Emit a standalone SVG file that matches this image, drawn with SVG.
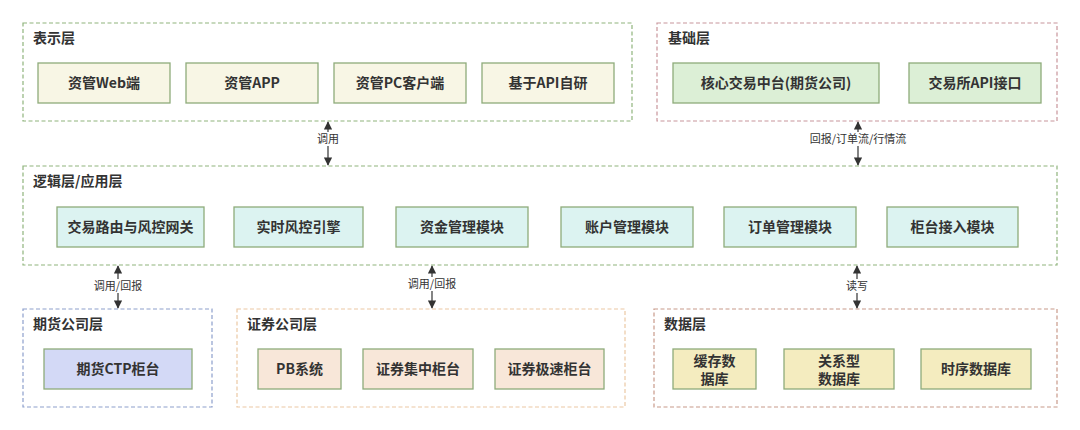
<svg xmlns="http://www.w3.org/2000/svg" width="1080" height="430" viewBox="0 0 1080 430">
<style>
.layer{fill:#ffffff;stroke-width:1.2;stroke-dasharray:4 2.5}
.green{stroke:#8fb47c}
.red{stroke:#c8959b}
.blue{stroke:#8d9fcc}
.orange{stroke:#ecc8a4}
.brown{stroke:#c89a8a}
.node{stroke:#8eab7a;stroke-width:1.3}
.cream{fill:#f8f6e5}
.lgreen{fill:#dcefd6}
.cyan{fill:#dcf3f1}
.lav{fill:#d3d9f6}
.peach{fill:#f8e7d9}
.yellow{fill:#f4ecbf}
.title{font-family:"Noto Sans CJK SC","Liberation Sans",sans-serif;font-size:14px;font-weight:bold;fill:#333333}
.nt{font-family:"Noto Sans CJK SC","Liberation Sans",sans-serif;font-size:14px;font-weight:bold;fill:#333333;text-anchor:middle}
.cl{font-family:"Noto Sans CJK SC","Liberation Sans",sans-serif;font-size:11px;fill:#333333;text-anchor:middle}
.conn{stroke:#333333;stroke-width:1.2;fill:none}
</style>
<defs>
<marker id="ah" viewBox="0 0 10 10" refX="9" refY="5" markerWidth="7" markerHeight="7" orient="auto-start-reverse">
<path d="M0,0 L10,5 L0,10 z" fill="#333333"/>
</marker>
</defs>

<g id="layer-presentation">
<rect class="layer green" x="23" y="23" width="609" height="98"/>
<text class="title" x="33" y="43">表示层</text>
</g>
<g id="node-web"><rect class="node cream" x="38" y="63" width="132" height="40"/><text class="nt" x="104" y="88">资管Web端</text></g>
<g id="node-app"><rect class="node cream" x="186" y="63" width="132" height="40"/><text class="nt" x="252" y="88">资管APP</text></g>
<g id="node-pc"><rect class="node cream" x="334" y="63" width="132" height="40"/><text class="nt" x="400" y="88">资管PC客户端</text></g>
<g id="node-api"><rect class="node cream" x="482" y="63" width="132" height="40"/><text class="nt" x="548" y="88">基于API自研</text></g>

<g id="layer-base">
<rect class="layer red" x="657" y="23" width="400" height="98"/>
<text class="title" x="668" y="43">基础层</text>
</g>
<g id="node-core"><rect class="node lgreen" x="673" y="63" width="206" height="40"/><text class="nt" x="776" y="88">核心交易中台(期货公司)</text></g>
<g id="node-exapi"><rect class="node lgreen" x="909" y="63" width="132" height="40"/><text class="nt" x="975" y="88">交易所API接口</text></g>

<g id="layer-logic">
<rect class="layer green" x="23" y="166" width="1034" height="99"/>
<text class="title" x="33" y="186">逻辑层/应用层</text>
</g>
<g id="node-gw"><rect class="node cyan" x="57" y="207" width="147" height="40"/><text class="nt" x="130.5" y="232">交易路由与风控网关</text></g>
<g id="node-risk"><rect class="node cyan" x="234" y="207" width="129" height="40"/><text class="nt" x="298.5" y="232">实时风控引擎</text></g>
<g id="node-fund"><rect class="node cyan" x="396" y="207" width="132" height="40"/><text class="nt" x="462" y="232">资金管理模块</text></g>
<g id="node-acct"><rect class="node cyan" x="561" y="207" width="132" height="40"/><text class="nt" x="627" y="232">账户管理模块</text></g>
<g id="node-order"><rect class="node cyan" x="724" y="207" width="132" height="40"/><text class="nt" x="790" y="232">订单管理模块</text></g>
<g id="node-counter"><rect class="node cyan" x="887" y="207" width="131" height="40"/><text class="nt" x="952.5" y="232">柜台接入模块</text></g>

<g id="layer-futures">
<rect class="layer blue" x="23" y="309" width="189" height="98"/>
<text class="title" x="33" y="329">期货公司层</text>
</g>
<g id="node-ctp"><rect class="node lav" x="44" y="349" width="148" height="40"/><text class="nt" x="118" y="374">期货CTP柜台</text></g>

<g id="layer-securities">
<rect class="layer orange" x="237" y="309" width="388" height="98"/>
<text class="title" x="247" y="329">证券公司层</text>
</g>
<g id="node-pb"><rect class="node peach" x="258" y="349" width="83" height="40"/><text class="nt" x="299.5" y="374">PB系统</text></g>
<g id="node-central"><rect class="node peach" x="363" y="349" width="110" height="40"/><text class="nt" x="418" y="374">证券集中柜台</text></g>
<g id="node-fast"><rect class="node peach" x="495" y="349" width="109" height="40"/><text class="nt" x="549.5" y="374">证券极速柜台</text></g>

<g id="layer-data">
<rect class="layer brown" x="654" y="309" width="403" height="98"/>
<text class="title" x="664" y="329">数据层</text>
</g>
<g id="node-cache"><rect class="node yellow" x="673" y="349" width="83" height="40"/><text class="nt" x="714.5" y="366">缓存数</text><text class="nt" x="714.5" y="384">据库</text></g>
<g id="node-rdb"><rect class="node yellow" x="784" y="349" width="110" height="40"/><text class="nt" x="839" y="366">关系型</text><text class="nt" x="839" y="384">数据库</text></g>
<g id="node-tsdb"><rect class="node yellow" x="921" y="349" width="110" height="40"/><text class="nt" x="976" y="374">时序数据库</text></g>

<g id="connectors">
<line class="conn" x1="328" y1="122" x2="328" y2="165" marker-start="url(#ah)" marker-end="url(#ah)"/>
<rect x="314" y="132" width="28" height="14" fill="#ffffff"/>
<text class="cl" x="328" y="143">调用</text>

<line class="conn" x1="858" y1="122" x2="858" y2="165" marker-start="url(#ah)" marker-end="url(#ah)"/>
<rect x="804" y="132" width="108" height="14" fill="#ffffff"/>
<text class="cl" x="858" y="143">回报/订单流/行情流</text>

<line class="conn" x1="118" y1="266" x2="118" y2="308" marker-start="url(#ah)" marker-end="url(#ah)"/>
<rect x="90" y="279" width="56" height="14" fill="#ffffff"/>
<text class="cl" x="118" y="290">调用/回报</text>

<line class="conn" x1="432" y1="266" x2="432" y2="308" marker-start="url(#ah)" marker-end="url(#ah)"/>
<rect x="404" y="277" width="56" height="14" fill="#ffffff"/>
<text class="cl" x="432" y="288">调用/回报</text>

<line class="conn" x1="857" y1="266" x2="857" y2="308" marker-start="url(#ah)" marker-end="url(#ah)"/>
<rect x="843" y="279" width="28" height="14" fill="#ffffff"/>
<text class="cl" x="857" y="290">读写</text>
</g>
</svg>
